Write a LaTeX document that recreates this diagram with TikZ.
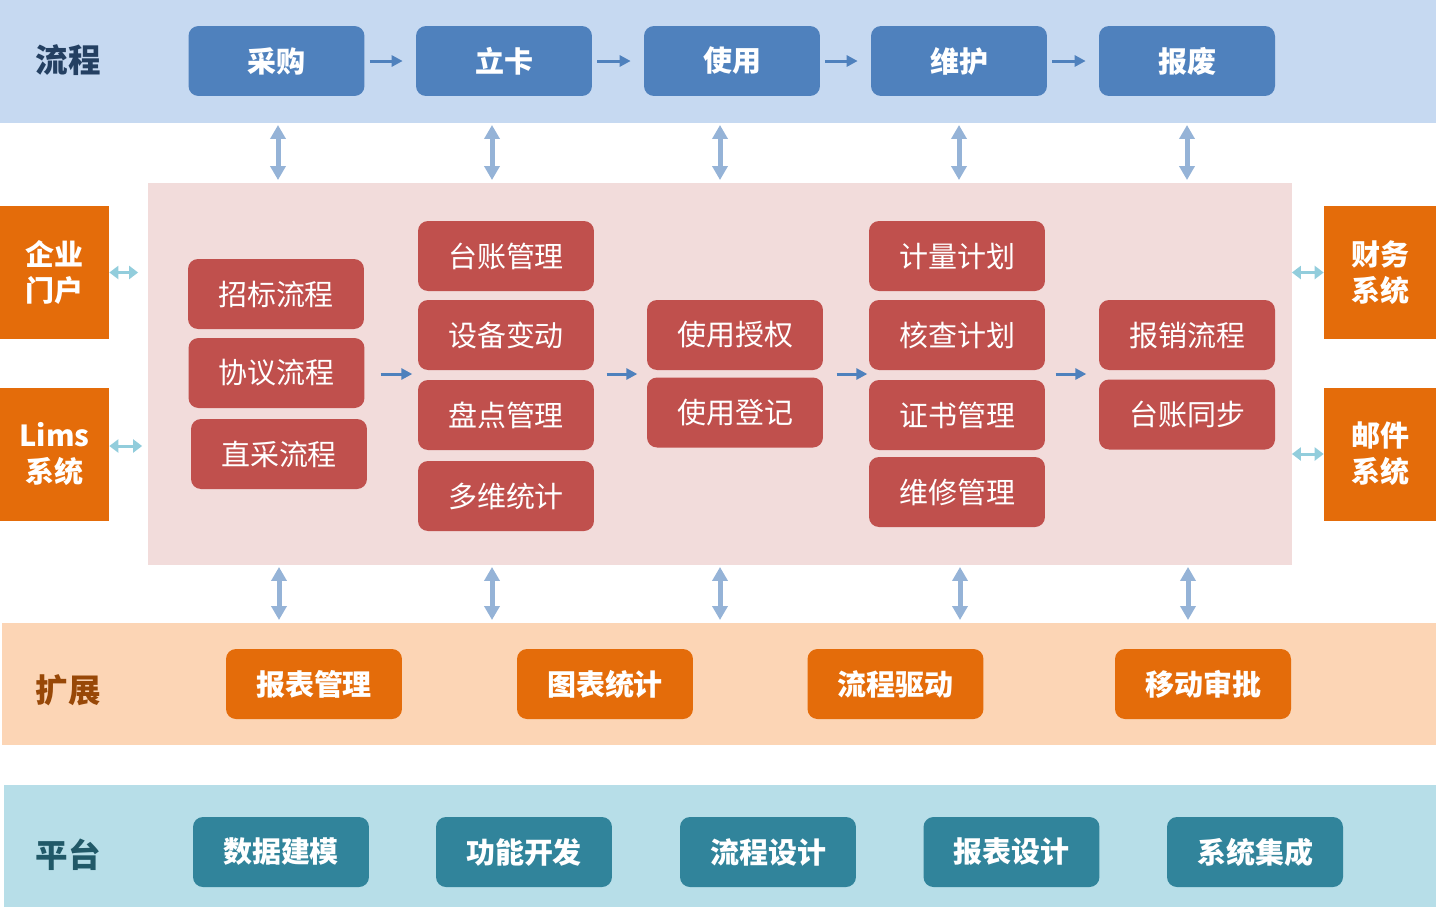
\documentclass[tikz,border=0pt]{standalone}
\usepackage{fontspec}
\setmainfont{Noto Sans CJK SC}
\usetikzlibrary{arrows.meta,fit,positioning}

\definecolor{flowbg}{HTML}{C6D9F1}
\definecolor{corebg}{HTML}{F2DCDB}
\definecolor{extbg}{HTML}{FCD5B5}
\definecolor{basebg}{HTML}{B7DEE8}
\definecolor{flowblue}{HTML}{4F81BD}
\definecolor{corered}{HTML}{C0504D}
\definecolor{extorange}{HTML}{E46C0A}
\definecolor{baseteal}{HTML}{31849B}
\definecolor{linkblue}{HTML}{95B3D7}
\definecolor{sidecyan}{HTML}{92CDDC}
\definecolor{flowtext}{HTML}{244062}
\definecolor{exttext}{HTML}{984807}
\definecolor{basetext}{HTML}{215968}

\tikzset{
  band/.style={inner sep=0pt, outer sep=0pt},
  bandlabel/.style={font=\fontsize{18.5}{22}\selectfont\bfseries},
  box/.style={rounded corners=0.2cm, minimum width=3.52cm, minimum height=1.4cm,
    inner sep=0pt, text=white, font=\fontsize{16.5}{20}\selectfont\bfseries},
  flowbox/.style={box, fill=flowblue},
  corebox/.style={box, fill=corered, font=\fontsize{16.5}{20}\selectfont},
  extbox/.style={box, fill=extorange},
  basebox/.style={box, fill=baseteal},
  sidebox/.style={fill=extorange, minimum width=2.18cm, minimum height=2.66cm,
    inner sep=0pt, text=white, align=center, font=\fontsize{16.5}{20.5}\selectfont\bfseries},
  flowarrow/.style={draw=flowblue, line width=0.06cm,
    -{Triangle[length=0.22cm, width=0.22cm]}},
  linkarrow/.style={draw=linkblue, line width=0.1cm,
    {Triangle[length=0.28cm, width=0.3cm]}-{Triangle[length=0.28cm, width=0.3cm]},
    shorten <=0.04cm, shorten >=0.06cm},
  sidearrow/.style={draw=sidecyan, line width=0.06cm,
    {Triangle[length=0.18cm, width=0.26cm]}-{Triangle[length=0.18cm, width=0.26cm]}}
}

\begin{document}
\begin{tikzpicture}[x=0.02cm, y=-0.02cm]
\useasboundingbox (0,0) rectangle (1436,907);

\node[band, fill=flowbg, minimum width=28.72cm, minimum height=2.46cm] (top) at (718,61.5) {};
\node[band, fill=corebg, minimum width=22.88cm, minimum height=7.64cm] (core) at (720,374) {};
\node[band, fill=extbg, minimum width=28.68cm, minimum height=2.44cm] (ext) at (719,684) {};
\node[band, fill=basebg, minimum width=28.64cm, minimum height=2.44cm] (base) at (720,846) {};

\node[bandlabel, text=flowtext] (toplabel) at (68,60) {流程};
\node[bandlabel, text=exttext] (extlabel) at (68,690) {扩展};
\node[bandlabel, text=basetext] (baselabel) at (68,855) {平台};

\foreach \t/\x [count=\i] in {采购/276.5,立卡/504,使用/732,维护/959,报废/1187}
  \node[flowbox] (f\i) at (\x,61) {\t};
\foreach \i/\j in {1/2,2/3,3/4,4/5}
  \draw[flowarrow, shorten <=0.1cm, shorten >=0.26cm] (f\i) -- (f\j);

\node[corebox] (a1) at (276,294) {招标流程};
\node[corebox] (a2) at (276.5,373) {协议流程};
\node[corebox] (a3) at (279,454) {直采流程};
\foreach \t/\y [count=\i] in {台账管理/256,设备变动/335,盘点管理/415,多维统计/496}
  \node[corebox] (b\i) at (506,\y) {\t};
\node[corebox] (c1) at (735,335) {使用授权};
\node[corebox] (c2) at (735,412.5) {使用登记};
\foreach \t/\y [count=\i] in {计量计划/256,核查计划/335,证书管理/415,维修管理/492}
  \node[corebox] (d\i) at (957,\y) {\t};
\node[corebox] (e1) at (1187,335) {报销流程};
\node[corebox] (e2) at (1187,414.5) {台账同步};

\node[fit=(a1)(a2)(a3), inner sep=0pt] (g1) {};
\node[fit=(b1)(b4), inner sep=0pt] (g2) {};
\node[fit=(c1)(c2), inner sep=0pt] (g3) {};
\node[fit=(d1)(d4), inner sep=0pt] (g4) {};
\node[fit=(e1)(e2), inner sep=0pt] (g5) {};
\foreach \a/\b/\s/\e in {1/2/13/5,2/3/12/9,3/4/13/1,4/5/10/12}
  \draw[flowarrow, shorten <=\s*0.02cm, shorten >=\e*0.02cm]
    (g\a.east |- core.center) -- (g\b.west |- core.center);

\node[sidebox] (portal) at (54.5,272.5) {企业\\门户};
\node[sidebox] (lims) at (54.5,454) {Lims\\系统};
\node[sidebox, minimum width=2.24cm] (fin) at (1380,272.5) {财务\\系统};
\node[sidebox, minimum width=2.24cm] (mail) at (1380,454) {邮件\\系统};

\draw[sidearrow, shorten >=0.2cm] (portal.east) -- (portal.east -| core.west);
\draw[sidearrow, shorten >=0.12cm] ([yshift=0.16cm]lims.east) -- ([yshift=0.16cm]lims.east -| core.west);
\draw[sidearrow] (fin.west -| core.east) -- (fin.west);
\draw[sidearrow] (mail.west -| core.east) -- (mail.west);

\foreach \t/\x [count=\i] in {报表管理/314,图表统计/605,流程驱动/895.5,移动审批/1203}
  \node[extbox] (x\i) at (\x,684) {\t};
\foreach \t/\x [count=\i] in {数据建模/281,功能开发/524,流程设计/768,报表设计/1011.5,系统集成/1255}
  \node[basebox] (p\i) at (\x,852) {\t};

\foreach \x [count=\i] in {278,492,720,959,1187} {
  \coordinate (u\i) at (\x,0);
  \draw[linkarrow] (u\i |- top.south) -- (u\i |- core.north);
}
\foreach \x [count=\i] in {279,492,720,960,1188} {
  \coordinate (l\i) at (\x,0);
  \draw[linkarrow] (l\i |- core.south) -- (l\i |- ext.north);
}
\end{tikzpicture}
\end{document}
